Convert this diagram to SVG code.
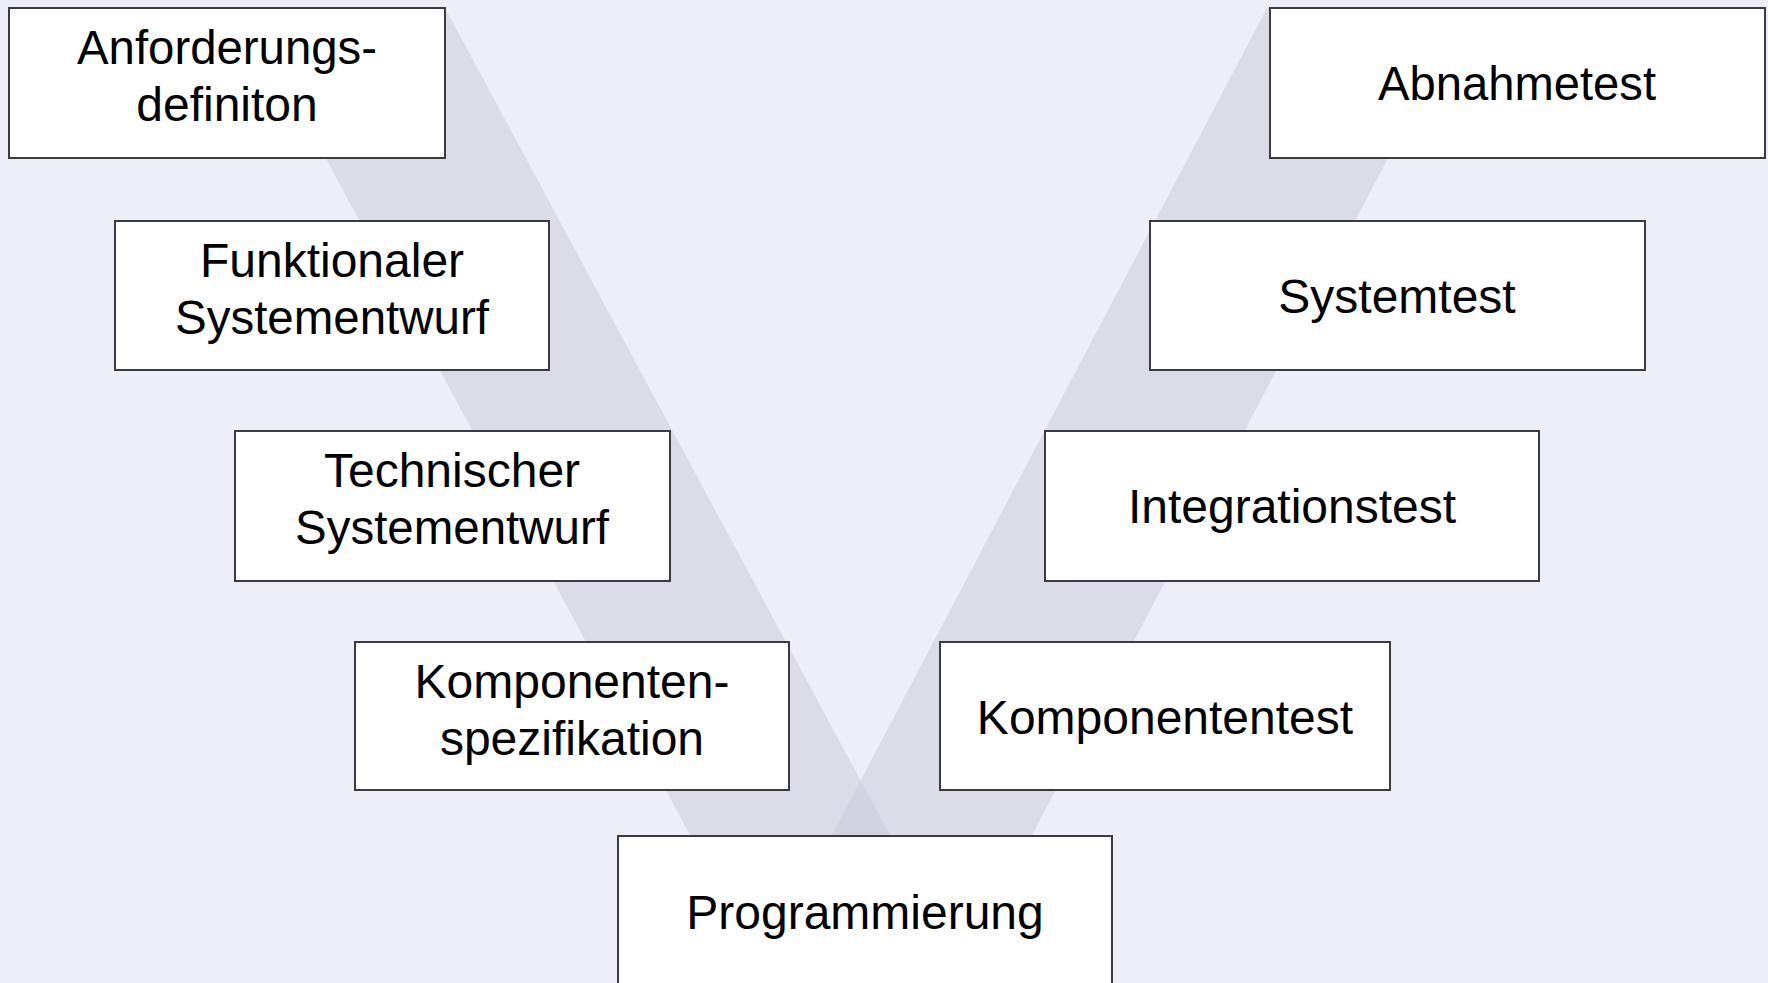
<svg xmlns="http://www.w3.org/2000/svg" width="1768" height="983" viewBox="0 0 1768 983">
  <style>
    .box { fill: #FFFFFF; stroke: #3D3A42; stroke-width: 2; }
    .lbl { font-family: "Liberation Sans", Arial, sans-serif; font-size: 48px; fill: #000000; text-anchor: middle; }
    .band { fill: #DCDCE9; }
    .overlap { fill: #D2D2E2; }
  </style>
  <rect x="0" y="0" width="1768" height="983" fill="#EEEEF8"/>
  <g id="bands">
    <polygon class="band" points="245,8 445,8 898,850 698,850"/>
    <polygon class="band" points="1267,8 1467,8 1024,850 824,850"/>
    <polygon class="overlap" points="860.7,780.6 898,850 824,850"/>
  </g>
  <g id="n1">
    <rect class="box" x="9" y="8" width="436" height="150"/>
    <text class="lbl" x="227" y="64" textLength="300" lengthAdjust="spacingAndGlyphs">Anforderungs-</text>
    <text class="lbl" x="227" y="121">definiton</text>
  </g>
  <g id="n2">
    <rect class="box" x="115" y="221" width="434" height="149"/>
    <text class="lbl" x="332" y="277">Funktionaler</text>
    <text class="lbl" x="332" y="334" textLength="314" lengthAdjust="spacingAndGlyphs">Systementwurf</text>
  </g>
  <g id="n3">
    <rect class="box" x="235" y="431" width="435" height="150"/>
    <text class="lbl" x="452" y="487">Technischer</text>
    <text class="lbl" x="452" y="544" textLength="314" lengthAdjust="spacingAndGlyphs">Systementwurf</text>
  </g>
  <g id="n4">
    <rect class="box" x="355" y="642" width="434" height="148"/>
    <text class="lbl" x="572" y="698">Komponenten-</text>
    <text class="lbl" x="572" y="755">spezifikation</text>
  </g>
  <g id="n5">
    <rect class="box" x="618" y="836" width="494" height="170"/>
    <text class="lbl" x="865" y="929">Programmierung</text>
  </g>
  <g id="n6">
    <rect class="box" x="940" y="642" width="450" height="148"/>
    <text class="lbl" x="1165" y="734">Komponententest</text>
  </g>
  <g id="n7">
    <rect class="box" x="1045" y="431" width="494" height="150"/>
    <text class="lbl" x="1292" y="523">Integrationstest</text>
  </g>
  <g id="n8">
    <rect class="box" x="1150" y="221" width="495" height="149"/>
    <text class="lbl" x="1397" y="313">Systemtest</text>
  </g>
  <g id="n9">
    <rect class="box" x="1270" y="8" width="495" height="150"/>
    <text class="lbl" x="1517" y="100" textLength="278" lengthAdjust="spacingAndGlyphs">Abnahmetest</text>
  </g>
</svg>
